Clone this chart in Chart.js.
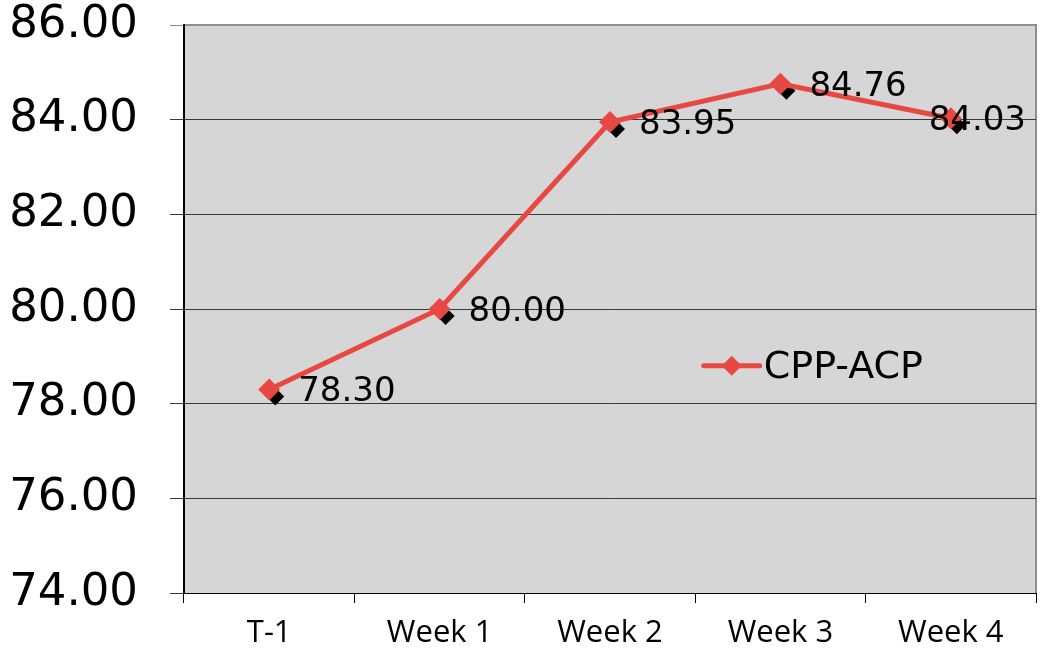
<!DOCTYPE html>
<html>
<head>
<meta charset="utf-8">
<script src="https://cdn.jsdelivr.net/npm/chart.js@4"></script>
<style>
  html, body { margin: 0; padding: 0; background: #ffffff; overflow: hidden; }
  #myChart { display: block; position: absolute; left: 0; top: 0; }
</style>
</head>
<body>
<canvas id="myChart" width="1047" height="652"></canvas>
<script>
const labels = ['T-1', 'Week 1', 'Week 2', 'Week 3', 'Week 4'];
const values = [78.30, 80.00, 83.95, 84.76, 84.03];
const seriesName = 'CPP-ACP';
const yMin = 74, yMax = 86, yStep = 2;

const red = 'rgb(232, 72, 66)';

// gray plot background + gray top/right border
const plotBg = {
  id: 'plotBg',
  beforeDraw(chart) {
    const a = chart.chartArea, c = chart.ctx;
    c.save();
    c.fillStyle = '#d6d6d6';
    c.fillRect(a.left, a.top, a.right - a.left, a.bottom - a.top);
    c.strokeStyle = '#8e8e8e';
    c.lineWidth = 2;
    c.beginPath();
    c.moveTo(a.left, a.top);
    c.lineTo(a.right, a.top);
    c.lineTo(a.right, a.bottom);
    c.stroke();
    c.restore();
  }
};

// black offset diamonds under the red markers
const shadows = {
  id: 'shadows',
  beforeDatasetsDraw(chart) {
    const c = chart.ctx;
    const meta = chart.getDatasetMeta(0);
    c.save();
    c.fillStyle = '#000';
    meta.data.forEach(p => {
      const x = p.x + 6, y = p.y + 7, r = 9;
      c.beginPath();
      c.moveTo(x, y - r);
      c.lineTo(x + r, y);
      c.lineTo(x, y + r);
      c.lineTo(x - r, y);
      c.closePath();
      c.fill();
    });
    c.restore();
  }
};

const valueLabels = {
  id: 'valueLabels',
  afterDatasetsDraw(chart) {
    const c = chart.ctx;
    const a = chart.chartArea;
    const meta = chart.getDatasetMeta(0);
    c.save();
    c.font = '34px "DejaVu Sans"';
    c.fillStyle = '#000';
    c.textAlign = 'left';
    c.textBaseline = 'middle';
    meta.data.forEach((p, i) => {
      const txt = values[i].toFixed(2);
      const w = c.measureText(txt).width;
      let x = p.x + 29;
      if (x + w > a.right - 10) x = a.right - 10 - w;
      c.fillText(txt, x, p.y + 3);
    });
    c.restore();
  }
};

// legend sitting inside the plot area
const innerLegend = {
  id: 'innerLegend',
  afterDraw(chart) {
    const a = chart.chartArea, c = chart.ctx;
    const x0 = a.left + (a.right - a.left) * 0.61;
    const y0 = a.top + (a.bottom - a.top) * 0.6;
    c.save();
    c.strokeStyle = red;
    c.lineWidth = 5;
    c.lineCap = 'round';
    c.beginPath();
    c.moveTo(x0, y0);
    c.lineTo(x0 + 56, y0);
    c.stroke();
    c.fillStyle = red;
    const mx = x0 + 28, r = 10;
    c.beginPath();
    c.moveTo(mx, y0 - r);
    c.lineTo(mx + r, y0);
    c.lineTo(mx, y0 + r);
    c.lineTo(mx - r, y0);
    c.closePath();
    c.fill();
    c.fillStyle = '#000';
    c.font = '38px "DejaVu Sans"';
    c.textBaseline = 'middle';
    c.fillText(seriesName, x0 + 60, y0 + 2);
    c.restore();
  }
};

const myChart = new Chart(document.getElementById('myChart'), {
  type: 'line',
  data: {
    labels: labels,
    datasets: [{
      label: seriesName,
      data: values,
      borderColor: red,
      backgroundColor: red,
      borderWidth: 5,
      pointStyle: 'rectRot',
      pointRadius: 11,
      pointHoverRadius: 11,
      pointBackgroundColor: red,
      pointBorderWidth: 0,
      tension: 0
    }]
  },
  options: {
    responsive: false,
    animation: false,
    layout: { padding: { top: 25, right: -4, left: 0, bottom: 0 } },
    plugins: {
      legend: { display: false },
      tooltip: { enabled: false }
    },
    scales: {
      x: {
        offset: true,
        grid: {
          offset: true,
          drawOnChartArea: false,
          drawTicks: true,
          tickLength: 10,
          color: '#000'
        },
        border: { color: '#000', width: 1 },
        ticks: {
          color: '#000',
          font: { family: 'Open Sans', size: 31 },
          padding: 12,
          maxRotation: 0
        },
        afterFit(scale) {
          scale.height = 59;
          scale.paddingLeft = 0;
          scale.paddingRight = 0;
        }
      },
      y: {
        min: yMin,
        max: yMax,
        grid: {
          color: ctx => ctx.tick && ctx.tick.value === yMax ? '#8e8e8e' : '#3a3a3a',
          lineWidth: 1,
          tickLength: 14
        },
        border: { color: '#000', width: 2 },
        ticks: {
          stepSize: yStep,
          color: '#000',
          font: { family: 'DejaVu Sans', size: 45, lineHeight: 1 },
          padding: 32,
          callback: v => Number(v).toFixed(2)
        },
        afterFit(scale) {
          scale.width = 184;
          scale.paddingTop = 0;
          scale.paddingBottom = 0;
        }
      }
    }
  },
  plugins: [plotBg, shadows, valueLabels, innerLegend]
});
</script>
</body>
</html>
